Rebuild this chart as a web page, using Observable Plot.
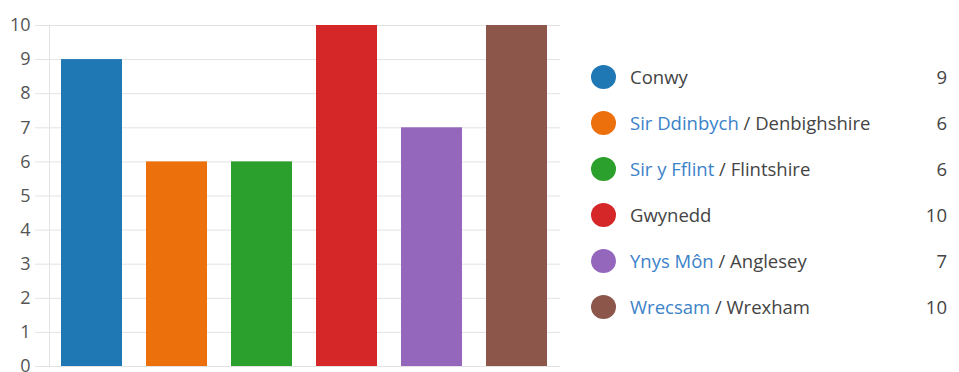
<!DOCTYPE html>
<html>
<head>
<meta charset="utf-8">
<script src="https://cdn.jsdelivr.net/npm/d3@7"></script>
<script src="https://cdn.jsdelivr.net/npm/@observablehq/plot@0.6"></script>
<style>
  html, body { margin: 0; padding: 0; background: #fff; width: 959px; height: 372px; overflow: hidden; }
  #chart { position: absolute; left: 0; top: 0; }
  #legend { position: absolute; left: 590px; top: 54px; width: 362px; font-family: "Open Sans", sans-serif; font-size: 18.5px; color: #444; }
  .row { position: relative; height: 46px; line-height: 46px; }
  .dot { position: absolute; left: 1px; top: 11px; width: 25px; height: 24px; border-radius: 50%; }
  .label { position: absolute; left: 40px; top: 0; white-space: nowrap; }
  .welsh { color: #3b82c9; }
  .val { position: absolute; right: 5px; top: 0; }
</style>
</head>
<body>
<div id="chart"></div>
<div id="legend"></div>
<script>
const welshNames = ["Conwy", "Sir Ddinbych", "Sir y Fflint", "Gwynedd", "Ynys Môn", "Wrecsam"];
const englishNames = ["", "Denbighshire", "Flintshire", "", "Anglesey", "Wrexham"];
const values = [9, 6, 6, 10, 7, 10];
const colors = ["#1f77b4", "#ec700c", "#2ca02c", "#d62728", "#9467bd", "#8c564b"];
const yTicks = [0, 1, 2, 3, 4, 5, 6, 7, 8, 9, 10];

const data = welshNames.map((w, i) => ({name: w, value: values[i], color: colors[i]}));

const plot = Plot.plot({
  width: 560,
  height: 372,
  marginLeft: 49,
  marginRight: 0,
  marginTop: 25,
  marginBottom: 6,
  style: {fontFamily: "'Open Sans', sans-serif", fontSize: "18px", color: "#555"},
  x: {domain: welshNames, paddingInner: 0.28, paddingOuter: 0.14, axis: null},
  y: {domain: [0, 10], ticks: yTicks},
  marks: [
    Plot.gridY(yTicks, {stroke: "#e3e3e3", strokeOpacity: 1}),
    Plot.axisY(yTicks, {tickSize: 14, tickPadding: 5, stroke: "#e3e3e3", label: null, fill: "#555"}),
    Plot.frame({anchor: "left", stroke: "#e3e3e3"}),
    Plot.barY(data, {x: "name", y: "value", fill: "color"})
  ]
});
document.getElementById("chart").appendChild(plot);

const legend = document.getElementById("legend");
welshNames.forEach((w, i) => {
  const row = document.createElement("div");
  row.className = "row";
  const dot = document.createElement("div");
  dot.className = "dot";
  dot.style.background = colors[i];
  row.appendChild(dot);
  const label = document.createElement("div");
  label.className = "label";
  if (englishNames[i]) {
    const s = document.createElement("span");
    s.className = "welsh";
    s.textContent = w;
    label.appendChild(s);
    label.appendChild(document.createTextNode(" / " + englishNames[i]));
  } else {
    label.textContent = w;
  }
  row.appendChild(label);
  const v = document.createElement("div");
  v.className = "val";
  v.textContent = values[i];
  row.appendChild(v);
  legend.appendChild(row);
});
</script>
</body>
</html>
